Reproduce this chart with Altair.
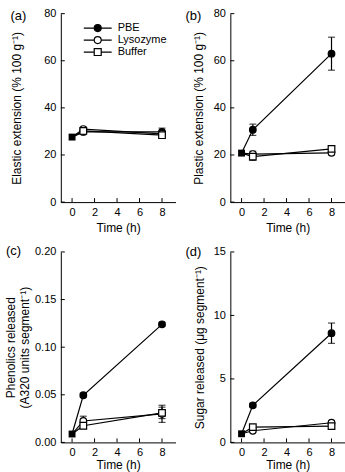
import altair as alt
import pandas as pd

# ---------------- data ----------------
times = [0, 1, 8]
series_names = ["PBE", "Lysozyme", "Buffer"]
x_ticks = [0, 2, 4, 6, 8]

elastic_pbe = [27.6, 29.8, 29.8]
elastic_lys = [27.6, 31.0, 29.0]
elastic_buf = [27.6, 30.2, 28.4]
elastic_pbe_err = [0.0, 0.8, 1.6]
elastic_lys_err = [0.0, 0.8, 0.8]
elastic_buf_err = [0.0, 0.6, 1.0]

plastic_pbe = [20.8, 30.7, 63.0]
plastic_lys = [20.8, 20.4, 20.9]
plastic_buf = [20.8, 19.3, 22.6]
plastic_pbe_err = [1.0, 2.4, 7.0]
plastic_lys_err = [0.0, 1.2, 0.8]
plastic_buf_err = [0.0, 1.6, 0.8]

phen_pbe = [0.0088, 0.0495, 0.124]
phen_lys = [0.0088, 0.0225, 0.030]
phen_buf = [0.0088, 0.0175, 0.031]
phen_pbe_err = [0.0, 0.002, 0.002]
phen_lys_err = [0.0, 0.005, 0.009]
phen_buf_err = [0.0, 0.003, 0.006]

sugar_pbe = [0.68, 2.92, 8.6]
sugar_lys = [0.68, 0.92, 1.55]
sugar_buf = [0.68, 1.2, 1.28]
sugar_pbe_err = [0.1, 0.15, 0.8]
sugar_lys_err = [0.0, 0.1, 0.15]
sugar_buf_err = [0.0, 0.1, 0.1]

y_ticks_ext = [0, 20, 40, 60, 80]
y_ticks_phen = [0.0, 0.05, 0.10, 0.15, 0.20]
y_ticks_sugar = [0, 5, 10, 15]

FONT = "Liberation Sans"
W = 115


def make_df(vals, errs):
    rows = []
    for name, v, e in zip(series_names, vals, errs):
        for t, y, err in zip(times, v, e):
            rows.append({"series": name, "time": t, "value": y,
                         "lo": y - err, "hi": y + err})
    return pd.DataFrame(rows)


circ_path = "M-4,0H-1M1,0H4M1,0A1,1,0,1,1,-1,0A1,1,0,1,1,1,0Z"
sq_path = "M-4,0H-1M1,0H4M-1,-1H1V1H-1Z"


def panel(df, letter, ytitle, ydomain, yticks, yfmt, title_x, letter_x, letter_y,
          H, xtitle_pad, legend=False):
    xs = alt.Scale(domain=[-1, 9.2], nice=False, zero=False)
    ys = alt.Scale(domain=ydomain, nice=False, zero=False)
    xax = alt.Axis(values=x_ticks, title="Time (h)", titlePadding=xtitle_pad,
                   labelPadding=4)
    yax = alt.Axis(values=yticks, format=yfmt, title=ytitle, titleX=title_x,
                   titleBaseline="middle", labelPadding=5, titleLineHeight=14)
    X = alt.X("time:Q", scale=xs, axis=xax)

    xt = alt.Chart(pd.DataFrame({"time": x_ticks})).mark_rule(
        color="black", strokeWidth=1).encode(
        x=X, y=alt.value(H), y2=alt.value(H - 4))
    yt = alt.Chart(pd.DataFrame({"value": yticks})).mark_rule(
        color="black", strokeWidth=1).encode(
        y=alt.Y("value:Q", scale=ys, axis=yax), x=alt.value(0), x2=alt.value(4))

    base = alt.Chart(df)
    line = base.mark_line(color="black", strokeWidth=1.2).encode(
        x=X, y=alt.Y("value:Q", scale=ys, axis=yax), detail="series:N")
    err = base.transform_filter("datum.hi > datum.lo").mark_rule(
        color="black", strokeWidth=1.2).encode(
        x=X, y=alt.Y("lo:Q", scale=ys, axis=yax), y2="hi:Q")
    cap_lo = base.transform_filter("datum.hi > datum.lo").mark_tick(
        color="black", orient="horizontal", size=7, thickness=1.2).encode(
        x=X, y=alt.Y("lo:Q", scale=ys, axis=yax))
    cap_hi = base.transform_filter("datum.hi > datum.lo").mark_tick(
        color="black", orient="horizontal", size=7, thickness=1.2).encode(
        x=X, y=alt.Y("hi:Q", scale=ys, axis=yax))
    pts = base.transform_filter("datum.time > 0").mark_point(
        size=44, strokeWidth=1.2, opacity=1, filled=True).encode(
        x=X, y=alt.Y("value:Q", scale=ys, axis=yax),
        shape=alt.Shape("series:N", scale=alt.Scale(
            domain=series_names, range=["circle", "circle", "square"]), legend=None),
        fill=alt.Fill("series:N", scale=alt.Scale(
            domain=series_names, range=["black", "white", "white"]), legend=None),
        stroke=alt.value("black"))
    init = base.transform_filter(
        "datum.time == 0 && datum.series == 'PBE'").mark_point(
        shape="square", size=48, filled=True, color="black", opacity=1).encode(
        x=X, y=alt.Y("value:Q", scale=ys, axis=yax))
    lab = alt.Chart(pd.DataFrame({"label": [letter]})).mark_text(
        font=FONT, fontSize=13, color="black", baseline="middle", align="center").encode(
        text="label:N", x=alt.value(letter_x), y=alt.value(letter_y))

    layers = [xt, yt, line, err, cap_lo, cap_hi, pts, init, lab]
    if legend:
        lg = alt.Legend(orient="none", legendX=31.5, legendY=9, title=None,
                        labelFont=FONT, labelFontSize=11, labelColor="black",
                        symbolSize=49, labelOffset=14.5, symbolStrokeWidth=1.2,
                        rowPadding=-1.5, padding=0, columns=1, gridAlign="all")
        leg = base.transform_filter("false").mark_point(
            filled=True, strokeWidth=1.2, opacity=1).encode(
            x=X, y=alt.Y("value:Q", scale=ys, axis=yax),
            shape=alt.Shape("series:N", scale=alt.Scale(
                domain=series_names, range=[circ_path, circ_path, sq_path]), legend=lg),
            fill=alt.Fill("series:N", scale=alt.Scale(
                domain=series_names, range=["black", "white", "white"]), legend=lg),
            stroke=alt.Stroke("series:N", scale=alt.Scale(
                domain=series_names, range=["black", "black", "black"]), legend=lg))
        layers.append(leg)
    ch = alt.layer(*layers).properties(width=W, height=H)
    if legend:
        ch = ch.resolve_scale(shape="independent", fill="independent",
                              stroke="independent")
    return ch


pa = panel(make_df([elastic_pbe, elastic_lys, elastic_buf],
                   [elastic_pbe_err, elastic_lys_err, elastic_buf_err]),
           "(a)", "Elastic extension (% 100 g⁻¹)", [0, 80], y_ticks_ext, "d",
           -44, -42.5, 2, 189, 5, legend=True)
pb = panel(make_df([plastic_pbe, plastic_lys, plastic_buf],
                   [plastic_pbe_err, plastic_lys_err, plastic_buf_err]),
           "(b)", "Plastic extension (% 100 g⁻¹)", [0, 80], y_ticks_ext, "d",
           -32, -37, 2, 189, 5)
pc = panel(make_df([phen_pbe, phen_lys, phen_buf],
                   [phen_pbe_err, phen_lys_err, phen_buf_err]),
           "(c)", ["Phenolics released", "(A320 units segment⁻¹)"], [0, 0.2],
           y_ticks_phen, ".2f", -50, -47.5, -1, 191, 2.5)
pd_ = panel(make_df([sugar_pbe, sugar_lys, sugar_buf],
                    [sugar_pbe_err, sugar_lys_err, sugar_buf_err]),
            "(d)", "Sugar released (μg segment⁻¹)", [0, 15], y_ticks_sugar, "d",
            -31, -37, 0, 191, 2.5)

chart = alt.concat(pa, pb, pc, pd_, columns=2,
                   spacing={"row": 50, "column": 55}, bounds="flush").properties(
    padding={"left": 5, "top": 7, "right": 0, "bottom": 0},
    background="white",
).configure_view(stroke=None).configure_axis(
    domainColor="black", domainWidth=1, grid=False, ticks=False, tickSize=0,
    labelFont=FONT, labelFontSize=11, labelColor="black",
    titleFont=FONT, titleFontSize=12, titleColor="black", titleFontWeight="normal",
)

chart.save("out.html", embed_options={"renderer": "svg", "actions": False})
